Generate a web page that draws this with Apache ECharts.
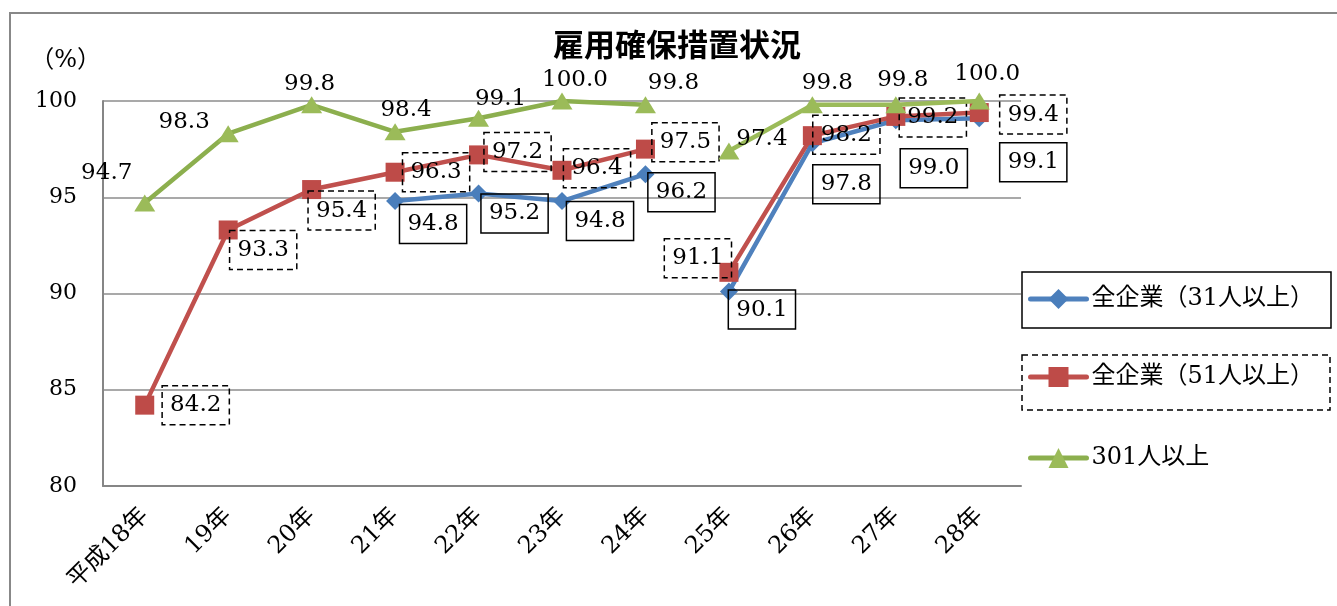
<!DOCTYPE html>
<html>
<head>
<meta charset="utf-8">
<script src="https://cdn.jsdelivr.net/npm/echarts@6/dist/echarts.min.js"></script>
<style>
  html, body { margin: 0; padding: 0; background: #fff; }
  #chart { width: 1337px; height: 606px; }
</style>
</head>
<body>
<div id="chart"></div>
<script>
var categories = ['平成18年', '19年', '20年', '21年', '22年', '23年', '24年', '25年', '26年', '27年', '28年'];
var all31 = [null, null, null, 94.8, 95.2, 94.8, 96.2, 90.1, 97.8, 99.0, 99.1];
var all51 = [84.2, 93.3, 95.4, 96.3, 97.2, 96.4, 97.5, 91.1, 98.2, 99.2, 99.4];
var over301 = [94.7, 98.3, 99.8, 98.4, 99.1, 100.0, 99.8, 97.4, 99.8, 99.8, 100.0];
var breakAt = 7; // 24年 -> 25年 is not joined

// where each value label sits, px from its point
var off31 = [null, null, null, [38, 23], [36, 20], [38, 20], [36, 18], [33, 18], [34, 41], [38, 48], [54, 44]];
var off51 = [[51, 0], [35, 20], [30, 21], [41, 0], [39, -3], [35, -2], [40, -7], [-31, -14], [34, -1], [37, 1], [54, 2]];
var off301 = [[-38, -30], [-44, -12], [-2, -21], [11, -22], [22, -19], [13, -21], [28, -22], [33, -12], [15, -22], [7, -25], [8, -27]];

var FONT = "'DejaVu Serif', 'Noto Sans CJK JP', serif";
var chart = echarts.init(document.getElementById('chart'));

function seg(arr, offs, first) {
  return arr.map(function(v, i) {
    var inSeg = first ? i < breakAt : i >= breakAt;
    if (v == null || !inSeg) return '-';
    return { value: v, label: { offset: offs[i] } };
  });
}

var fmt = function(p) { return Number(p.value).toFixed(1); };

var label31 = {
  show: true, position: 'inside', formatter: fmt,
  color: '#000', fontSize: 23, fontFamily: FONT,
  borderColor: '#000', borderWidth: 1.5, padding: [9, 8, 7, 8]
};
var label51 = {
  show: true, position: 'inside', formatter: fmt,
  color: '#000', fontSize: 23, fontFamily: FONT,
  borderColor: '#000', borderWidth: 1.5, borderType: [6, 4], padding: [9, 8, 7, 8]
};
var label301 = {
  show: true, position: 'inside', formatter: fmt,
  color: '#000', fontSize: 23, fontFamily: FONT
};

function line(name, data, lineColor, markColor, symbol, size, label, z) {
  return {
    name: name,
    type: 'line',
    data: data,
    symbol: symbol,
    symbolSize: size,
    z: z,
    lineStyle: { color: lineColor, width: 4.5 },
    itemStyle: { color: markColor },
    label: label,
    emphasis: { disabled: true },
    animation: false
  };
}

var n31 = '全企業（31人以上）';
var n51 = '全企業（51人以上）';
var n301 = '301人以上';

var legendBase = {
  left: 1028, padding: 0, itemWidth: 56, itemHeight: 25,
  lineStyle: { width: 5, cap: 'round' },
  textStyle: { color: '#000', fontSize: 24, fontFamily: FONT }
};

var option = {
  backgroundColor: '#fff',
  title: {
    text: '雇用確保措置状況',
    left: 548, top: 27,
    textStyle: { fontFamily: FONT, fontSize: 31, fontWeight: 'bold', color: '#000' }
  },
  grid: { left: 103, right: 316, top: 101, bottom: 120 },
  xAxis: {
    type: 'category',
    data: categories,
    boundaryGap: true,
    axisLine: { lineStyle: { color: '#868686', width: 2 } },
    axisTick: { show: false },
    axisLabel: { rotate: 45, margin: 26, color: '#000', fontSize: 24, fontFamily: FONT, interval: 0 }
  },
  yAxis: {
    type: 'value',
    min: 80, max: 100, interval: 5,
    name: '（%）',
    nameLocation: 'end',
    nameGap: 28,
    nameTextStyle: { color: '#000', fontSize: 24, fontFamily: FONT, align: 'right', padding: [0, 2, 0, 0] },
    axisLine: { show: true, lineStyle: { color: '#868686', width: 2 } },
    axisTick: { show: false },
    axisLabel: { margin: 26, color: '#000', fontSize: 22, fontFamily: FONT },
    splitLine: { lineStyle: { color: '#8c8c8c', width: 1.5 } }
  },
  legend: [
    Object.assign({ data: [n31], top: 287 }, legendBase),
    Object.assign({ data: [n51], top: 365 }, legendBase),
    Object.assign({ data: [n301], top: 446 }, legendBase)
  ],
  graphic: [
    { type: 'rect', shape: { x: 10, y: 13, width: 1400, height: 700 },
      style: { fill: 'none', stroke: '#888', lineWidth: 2 }, silent: true, z: -1 },
    { type: 'rect', shape: { x: 1022, y: 272, width: 309, height: 56 },
      style: { fill: 'none', stroke: '#000', lineWidth: 1.5 }, silent: true },
    { type: 'rect', shape: { x: 1022, y: 355, width: 308, height: 55 },
      style: { fill: 'none', stroke: '#000', lineWidth: 1.5, lineDash: [6, 4] }, silent: true }
  ],
  series: [
    line(n31, seg(all31, off31, true), '#4F81BD', '#4A7EBB', 'diamond', 18, label31, 2),
    line(n31, seg(all31, off31, false), '#4F81BD', '#4A7EBB', 'diamond', 18, label31, 2),
    line(n51, seg(all51, off51, true), '#C0504D', '#BE4B48', 'rect', 19, label51, 3),
    line(n51, seg(all51, off51, false), '#C0504D', '#BE4B48', 'rect', 19, label51, 3),
    line(n301, seg(over301, off301, true), '#8CAF4E', '#9BBB59', 'triangle', [21, 17], label301, 4),
    line(n301, seg(over301, off301, false), '#9BBB59', '#9BBB59', 'triangle', [21, 17], label301, 4)
  ]
};

chart.setOption(option);
</script>
</body>
</html>
